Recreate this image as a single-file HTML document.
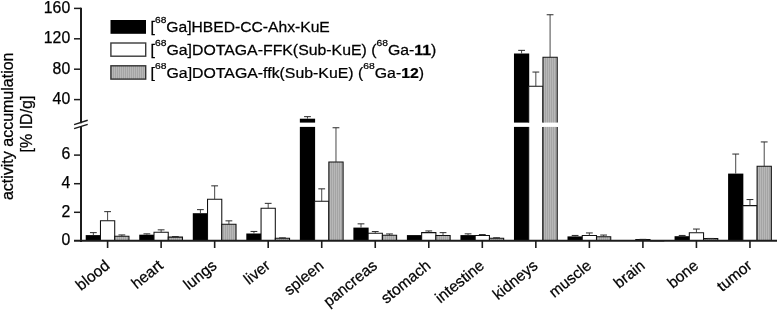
<!DOCTYPE html>
<html><head><meta charset="utf-8"><style>
html,body{margin:0;padding:0;background:#fff;}
body{width:779px;height:312px;overflow:hidden;}
svg{display:block;filter:blur(0.3px);}
text{font-family:"Liberation Sans",Arial,sans-serif;fill:#000;stroke:#000;stroke-width:0.25px;}
</style></head><body>
<svg width="779" height="312" viewBox="0 0 779 312">
<defs>
<pattern id="hatch" patternUnits="userSpaceOnUse" width="2" height="4">
<rect width="2" height="4" fill="#a4a4a4"/>
<rect width="1" height="4" fill="#b8b8b8"/>
</pattern>
</defs>

<rect x="85.72" y="235.10" width="15.25" height="5.80" fill="#000"/>

<path d="M93.35,235.10V232.65" stroke="#333" stroke-width="0.9" fill="none"/>
<path d="M89.95,232.65H96.75" stroke="#2a2a2a" stroke-width="1.0" fill="none"/>

<rect x="100.47" y="220.80" width="14.25" height="20.10" fill="#fff"/>
<path d="M100.47,240.90V220.80H114.72V240.90" fill="none" stroke="#111" stroke-width="1.05"/>

<path d="M107.60,220.80V211.65" stroke="#333" stroke-width="0.9" fill="none"/>
<path d="M104.20,211.65H111.00" stroke="#2a2a2a" stroke-width="1.0" fill="none"/>

<rect x="114.72" y="236.30" width="14.25" height="4.60" fill="url(#hatch)"/>
<path d="M114.72,240.90V236.30H128.97V240.90" fill="none" stroke="#111" stroke-width="1.05"/>

<path d="M121.85,236.30V234.95" stroke="#333" stroke-width="0.9" fill="none"/>
<path d="M118.45,234.95H125.25" stroke="#2a2a2a" stroke-width="1.0" fill="none"/>

<rect x="139.25" y="234.70" width="15.25" height="6.20" fill="#000"/>

<path d="M146.88,234.70V233.85" stroke="#333" stroke-width="0.9" fill="none"/>
<path d="M143.48,233.85H150.28" stroke="#2a2a2a" stroke-width="1.0" fill="none"/>

<rect x="154.00" y="232.30" width="14.25" height="8.60" fill="#fff"/>
<path d="M154.00,240.90V232.30H168.25V240.90" fill="none" stroke="#111" stroke-width="1.05"/>

<path d="M161.13,232.30V229.85" stroke="#333" stroke-width="0.9" fill="none"/>
<path d="M157.73,229.85H164.53" stroke="#2a2a2a" stroke-width="1.0" fill="none"/>

<rect x="168.25" y="237.10" width="14.25" height="3.80" fill="url(#hatch)"/>
<path d="M168.25,240.90V237.10H182.50V240.90" fill="none" stroke="#111" stroke-width="1.05"/>

<path d="M175.38,237.10V236.55" stroke="#333" stroke-width="0.9" fill="none"/>
<path d="M171.98,236.55H178.78" stroke="#2a2a2a" stroke-width="1.0" fill="none"/>

<rect x="192.78" y="213.20" width="15.25" height="27.70" fill="#000"/>

<path d="M200.41,213.20V209.65" stroke="#333" stroke-width="0.9" fill="none"/>
<path d="M197.01,209.65H203.81" stroke="#2a2a2a" stroke-width="1.0" fill="none"/>

<rect x="207.53" y="199.20" width="14.25" height="41.70" fill="#fff"/>
<path d="M207.53,240.90V199.20H221.78V240.90" fill="none" stroke="#111" stroke-width="1.05"/>

<path d="M214.66,199.20V185.85" stroke="#333" stroke-width="0.9" fill="none"/>
<path d="M211.26,185.85H218.06" stroke="#2a2a2a" stroke-width="1.0" fill="none"/>

<rect x="221.78" y="224.30" width="14.25" height="16.60" fill="url(#hatch)"/>
<path d="M221.78,240.90V224.30H236.03V240.90" fill="none" stroke="#111" stroke-width="1.05"/>

<path d="M228.91,224.30V220.85" stroke="#333" stroke-width="0.9" fill="none"/>
<path d="M225.51,220.85H232.31" stroke="#2a2a2a" stroke-width="1.0" fill="none"/>

<rect x="246.31" y="233.50" width="15.25" height="7.40" fill="#000"/>

<path d="M253.94,233.50V231.45" stroke="#333" stroke-width="0.9" fill="none"/>
<path d="M250.54,231.45H257.34" stroke="#2a2a2a" stroke-width="1.0" fill="none"/>

<rect x="261.06" y="208.30" width="14.25" height="32.60" fill="#fff"/>
<path d="M261.06,240.90V208.30H275.31V240.90" fill="none" stroke="#111" stroke-width="1.05"/>

<path d="M268.19,208.30V203.35" stroke="#333" stroke-width="0.9" fill="none"/>
<path d="M264.79,203.35H271.59" stroke="#2a2a2a" stroke-width="1.0" fill="none"/>

<rect x="275.31" y="238.30" width="14.25" height="2.60" fill="url(#hatch)"/>
<path d="M275.31,240.90V238.30H289.56V240.90" fill="none" stroke="#111" stroke-width="1.05"/>

<path d="M282.44,238.30V237.85" stroke="#333" stroke-width="0.9" fill="none"/>
<path d="M279.04,237.85H285.84" stroke="#2a2a2a" stroke-width="1.0" fill="none"/>

<rect x="299.85" y="118.70" width="15.25" height="3.90" fill="#000"/>
<rect x="299.85" y="126.90" width="15.25" height="114.00" fill="#000"/>

<path d="M307.47,118.70V116.65" stroke="#333" stroke-width="0.9" fill="none"/>
<path d="M304.07,116.65H310.87" stroke="#2a2a2a" stroke-width="1.0" fill="none"/>

<rect x="314.60" y="201.30" width="14.25" height="39.60" fill="#fff"/>
<path d="M314.60,240.90V201.30H328.85V240.90" fill="none" stroke="#111" stroke-width="1.05"/>

<path d="M321.72,201.30V188.85" stroke="#333" stroke-width="0.9" fill="none"/>
<path d="M318.32,188.85H325.12" stroke="#2a2a2a" stroke-width="1.0" fill="none"/>

<rect x="328.85" y="162.00" width="14.25" height="78.90" fill="url(#hatch)"/>
<path d="M328.85,240.90V162.00H343.10V240.90" fill="none" stroke="#111" stroke-width="1.05"/>

<path d="M335.97,162.00V127.75" stroke="#333" stroke-width="0.9" fill="none"/>
<path d="M332.57,127.75H339.37" stroke="#2a2a2a" stroke-width="1.0" fill="none"/>

<rect x="353.38" y="227.60" width="15.25" height="13.30" fill="#000"/>

<path d="M361.00,227.60V223.85" stroke="#333" stroke-width="0.9" fill="none"/>
<path d="M357.60,223.85H364.40" stroke="#2a2a2a" stroke-width="1.0" fill="none"/>

<rect x="368.12" y="233.20" width="14.25" height="7.70" fill="#fff"/>
<path d="M368.12,240.90V233.20H382.38V240.90" fill="none" stroke="#111" stroke-width="1.05"/>

<path d="M375.25,233.20V231.55" stroke="#333" stroke-width="0.9" fill="none"/>
<path d="M371.85,231.55H378.65" stroke="#2a2a2a" stroke-width="1.0" fill="none"/>

<rect x="382.38" y="235.30" width="14.25" height="5.60" fill="url(#hatch)"/>
<path d="M382.38,240.90V235.30H396.62V240.90" fill="none" stroke="#111" stroke-width="1.05"/>

<path d="M389.50,235.30V233.95" stroke="#333" stroke-width="0.9" fill="none"/>
<path d="M386.10,233.95H392.90" stroke="#2a2a2a" stroke-width="1.0" fill="none"/>

<rect x="406.90" y="235.10" width="15.25" height="5.80" fill="#000"/>


<rect x="421.65" y="232.60" width="14.25" height="8.30" fill="#fff"/>
<path d="M421.65,240.90V232.60H435.90V240.90" fill="none" stroke="#111" stroke-width="1.05"/>

<path d="M428.78,232.60V230.95" stroke="#333" stroke-width="0.9" fill="none"/>
<path d="M425.38,230.95H432.18" stroke="#2a2a2a" stroke-width="1.0" fill="none"/>

<rect x="435.90" y="235.40" width="14.25" height="5.50" fill="url(#hatch)"/>
<path d="M435.90,240.90V235.40H450.15V240.90" fill="none" stroke="#111" stroke-width="1.05"/>

<path d="M443.03,235.40V232.65" stroke="#333" stroke-width="0.9" fill="none"/>
<path d="M439.63,232.65H446.43" stroke="#2a2a2a" stroke-width="1.0" fill="none"/>

<rect x="460.44" y="235.10" width="15.25" height="5.80" fill="#000"/>

<path d="M468.06,235.10V233.85" stroke="#333" stroke-width="0.9" fill="none"/>
<path d="M464.66,233.85H471.46" stroke="#2a2a2a" stroke-width="1.0" fill="none"/>

<rect x="475.19" y="235.50" width="14.25" height="5.40" fill="#fff"/>
<path d="M475.19,240.90V235.50H489.44V240.90" fill="none" stroke="#111" stroke-width="1.05"/>

<path d="M482.31,235.50V234.55" stroke="#333" stroke-width="0.9" fill="none"/>
<path d="M478.91,234.55H485.71" stroke="#2a2a2a" stroke-width="1.0" fill="none"/>

<rect x="489.44" y="238.30" width="14.25" height="2.60" fill="url(#hatch)"/>
<path d="M489.44,240.90V238.30H503.69V240.90" fill="none" stroke="#111" stroke-width="1.05"/>

<path d="M496.56,238.30V237.75" stroke="#333" stroke-width="0.9" fill="none"/>
<path d="M493.16,237.75H499.96" stroke="#2a2a2a" stroke-width="1.0" fill="none"/>

<rect x="513.97" y="53.50" width="15.25" height="69.10" fill="#000"/>
<rect x="513.97" y="126.90" width="15.25" height="114.00" fill="#000"/>

<path d="M521.59,53.50V50.35" stroke="#333" stroke-width="0.9" fill="none"/>
<path d="M518.19,50.35H524.99" stroke="#2a2a2a" stroke-width="1.0" fill="none"/>

<rect x="528.72" y="86.20" width="14.25" height="36.40" fill="#fff"/>
<path d="M528.72,122.60V86.20H542.97V122.60" fill="none" stroke="#111" stroke-width="1.05"/>
<rect x="528.72" y="126.90" width="14.25" height="114.00" fill="#fff"/>
<path d="M528.72,240.90V126.90M542.97,126.90V240.90" fill="none" stroke="#111" stroke-width="1.05"/>

<path d="M535.84,86.20V72.05" stroke="#333" stroke-width="0.9" fill="none"/>
<path d="M532.44,72.05H539.24" stroke="#2a2a2a" stroke-width="1.0" fill="none"/>

<rect x="542.97" y="57.30" width="14.25" height="65.30" fill="url(#hatch)"/>
<path d="M542.97,122.60V57.30H557.22V122.60" fill="none" stroke="#111" stroke-width="1.05"/>
<rect x="542.97" y="126.90" width="14.25" height="114.00" fill="url(#hatch)"/>
<path d="M542.97,240.90V126.90M557.22,126.90V240.90" fill="none" stroke="#111" stroke-width="1.05"/>

<path d="M550.09,57.30V14.75" stroke="#333" stroke-width="0.9" fill="none"/>
<path d="M546.69,14.75H553.49" stroke="#2a2a2a" stroke-width="1.0" fill="none"/>

<rect x="567.50" y="236.40" width="15.25" height="4.50" fill="#000"/>

<path d="M575.12,236.40V235.45" stroke="#333" stroke-width="0.9" fill="none"/>
<path d="M571.72,235.45H578.52" stroke="#2a2a2a" stroke-width="1.0" fill="none"/>

<rect x="582.25" y="235.40" width="14.25" height="5.50" fill="#fff"/>
<path d="M582.25,240.90V235.40H596.50V240.90" fill="none" stroke="#111" stroke-width="1.05"/>

<path d="M589.37,235.40V232.95" stroke="#333" stroke-width="0.9" fill="none"/>
<path d="M585.97,232.95H592.77" stroke="#2a2a2a" stroke-width="1.0" fill="none"/>

<rect x="596.50" y="236.70" width="14.25" height="4.20" fill="url(#hatch)"/>
<path d="M596.50,240.90V236.70H610.75V240.90" fill="none" stroke="#111" stroke-width="1.05"/>

<path d="M603.62,236.70V235.05" stroke="#333" stroke-width="0.9" fill="none"/>
<path d="M600.22,235.05H607.02" stroke="#2a2a2a" stroke-width="1.0" fill="none"/>

<rect x="621.02" y="240.90" width="15.25" height="0.00" fill="#000"/>


<rect x="635.77" y="239.40" width="14.25" height="1.50" fill="#fff"/>
<path d="M635.77,240.90V239.40H650.02V240.90" fill="none" stroke="#111" stroke-width="1.05"/>

<path d="M642.90,239.40V239.35" stroke="#333" stroke-width="0.9" fill="none"/>
<path d="M639.50,239.35H646.30" stroke="#2a2a2a" stroke-width="1.0" fill="none"/>

<rect x="650.02" y="240.90" width="14.25" height="0.00" fill="url(#hatch)"/>
<path d="M650.02,240.90V240.90H664.27V240.90" fill="none" stroke="#111" stroke-width="1.05"/>


<rect x="674.56" y="236.20" width="15.25" height="4.70" fill="#000"/>

<path d="M682.18,236.20V235.45" stroke="#333" stroke-width="0.9" fill="none"/>
<path d="M678.78,235.45H685.58" stroke="#2a2a2a" stroke-width="1.0" fill="none"/>

<rect x="689.31" y="232.80" width="14.25" height="8.10" fill="#fff"/>
<path d="M689.31,240.90V232.80H703.56V240.90" fill="none" stroke="#111" stroke-width="1.05"/>

<path d="M696.43,232.80V229.05" stroke="#333" stroke-width="0.9" fill="none"/>
<path d="M693.03,229.05H699.83" stroke="#2a2a2a" stroke-width="1.0" fill="none"/>

<rect x="703.56" y="238.60" width="14.25" height="2.30" fill="url(#hatch)"/>
<path d="M703.56,240.90V238.60H717.81V240.90" fill="none" stroke="#111" stroke-width="1.05"/>

<path d="M710.68,238.60V238.45" stroke="#333" stroke-width="0.9" fill="none"/>
<path d="M707.28,238.45H714.08" stroke="#2a2a2a" stroke-width="1.0" fill="none"/>

<rect x="728.09" y="173.60" width="15.25" height="67.30" fill="#000"/>

<path d="M735.71,173.60V154.05" stroke="#333" stroke-width="0.9" fill="none"/>
<path d="M732.31,154.05H739.11" stroke="#2a2a2a" stroke-width="1.0" fill="none"/>

<rect x="742.84" y="205.60" width="14.25" height="35.30" fill="#fff"/>
<path d="M742.84,240.90V205.60H757.09V240.90" fill="none" stroke="#111" stroke-width="1.05"/>

<path d="M749.96,205.60V199.55" stroke="#333" stroke-width="0.9" fill="none"/>
<path d="M746.56,199.55H753.36" stroke="#2a2a2a" stroke-width="1.0" fill="none"/>

<rect x="757.09" y="166.30" width="14.25" height="74.60" fill="url(#hatch)"/>
<path d="M757.09,240.90V166.30H771.34V240.90" fill="none" stroke="#111" stroke-width="1.05"/>

<path d="M764.21,166.30V141.95" stroke="#333" stroke-width="0.9" fill="none"/>
<path d="M760.81,141.95H767.61" stroke="#2a2a2a" stroke-width="1.0" fill="none"/>

<g stroke="#1c1c1c" fill="none">
<path d="M81,7.7V123.3" stroke-width="2"/>
<path d="M81,126.2V242" stroke-width="2"/>
<path d="M74,240.80H777" stroke-width="1.9"/>
<path d="M74.1,124.6L87.7,120.3M74.1,128.6L87.7,124.4" stroke-width="1.5"/>
<path d="M74,99.60H81" stroke-width="1.5"/>
<path d="M74,69.20H81" stroke-width="1.5"/>
<path d="M74,38.80H81" stroke-width="1.5"/>
<path d="M74,8.40H81" stroke-width="1.5"/>
<path d="M74,212.30H81" stroke-width="1.5"/>
<path d="M74,183.70H81" stroke-width="1.5"/>
<path d="M74,155.10H81" stroke-width="1.5"/>
<path d="M107.60,241V248" stroke-width="1.6"/>
<path d="M161.13,241V248" stroke-width="1.6"/>
<path d="M214.66,241V248" stroke-width="1.6"/>
<path d="M268.19,241V248" stroke-width="1.6"/>
<path d="M321.72,241V248" stroke-width="1.6"/>
<path d="M375.25,241V248" stroke-width="1.6"/>
<path d="M428.78,241V248" stroke-width="1.6"/>
<path d="M482.31,241V248" stroke-width="1.6"/>
<path d="M535.84,241V248" stroke-width="1.6"/>
<path d="M589.37,241V248" stroke-width="1.6"/>
<path d="M642.90,241V248" stroke-width="1.6"/>
<path d="M696.43,241V248" stroke-width="1.6"/>
<path d="M749.96,241V248" stroke-width="1.6"/>
</g>
<g font-size="15.8" text-anchor="end">
<text x="70.2" y="103.90">40</text>
<text x="70.2" y="73.50">80</text>
<text x="70.2" y="43.10">120</text>
<text x="70.2" y="12.70">160</text>
<text x="70.2" y="245.20">0</text>
<text x="70.2" y="216.60">2</text>
<text x="70.2" y="188.00">4</text>
<text x="70.2" y="159.40">6</text>
</g>
<g font-size="15.5" text-anchor="end">
<text transform="translate(110.60,267.30) rotate(-39)">blood</text>
<text transform="translate(164.13,267.30) rotate(-39)">heart</text>
<text transform="translate(217.66,267.30) rotate(-39)">lungs</text>
<text transform="translate(271.19,267.30) rotate(-39)">liver</text>
<text transform="translate(324.72,267.30) rotate(-39)">spleen</text>
<text transform="translate(378.25,267.30) rotate(-39)">pancreas</text>
<text transform="translate(431.78,267.30) rotate(-39)">stomach</text>
<text transform="translate(485.31,267.30) rotate(-39)">intestine</text>
<text transform="translate(538.84,267.30) rotate(-39)">kidneys</text>
<text transform="translate(592.37,267.30) rotate(-39)">muscle</text>
<text transform="translate(645.90,267.30) rotate(-39)">brain</text>
<text transform="translate(699.43,267.30) rotate(-39)">bone</text>
<text transform="translate(752.96,267.30) rotate(-39)">tumor</text>
</g>
<g font-size="16" text-anchor="middle">
<text transform="translate(12.8,126.3) rotate(-90)">activity accumulation</text>
<text transform="translate(32.1,124) rotate(-90)">[% ID/g]</text>
</g>
<rect x="110.5" y="20" width="35.5" height="13.8" fill="#000"/>
<rect x="110.9" y="43.0" width="34.8" height="13.2" fill="#fff" stroke="#3a3a3a" stroke-width="1.4"/>
<rect x="110.9" y="65.8" width="34.8" height="13.3" fill="url(#hatch)" stroke="#333" stroke-width="1.4"/>
<g font-size="15.3">
<text transform="translate(150.60,31.80) scale(1.0240,1)">[<tspan font-size="9.95" dy="-8.5">68</tspan><tspan dy="8.5">Ga]HBED-CC-Ahx-KuE</tspan></text>
<text transform="translate(150.60,54.80) scale(1.0360,1)">[<tspan font-size="9.95" dy="-8.5">68</tspan><tspan dy="8.5">Ga]DOTAGA-FFK(Sub-KuE) (</tspan><tspan font-size="9.95" dy="-8.5">68</tspan><tspan dy="8.5">Ga-<tspan font-weight="bold">11</tspan>)</tspan></text>
<text transform="translate(150.60,77.80) scale(1.0370,1)">[<tspan font-size="9.95" dy="-8.5">68</tspan><tspan dy="8.5">Ga]DOTAGA-ffk(Sub-KuE) (</tspan><tspan font-size="9.95" dy="-8.5">68</tspan><tspan dy="8.5">Ga-<tspan font-weight="bold">12</tspan>)</tspan></text>
</g>
</svg>
</body></html>
